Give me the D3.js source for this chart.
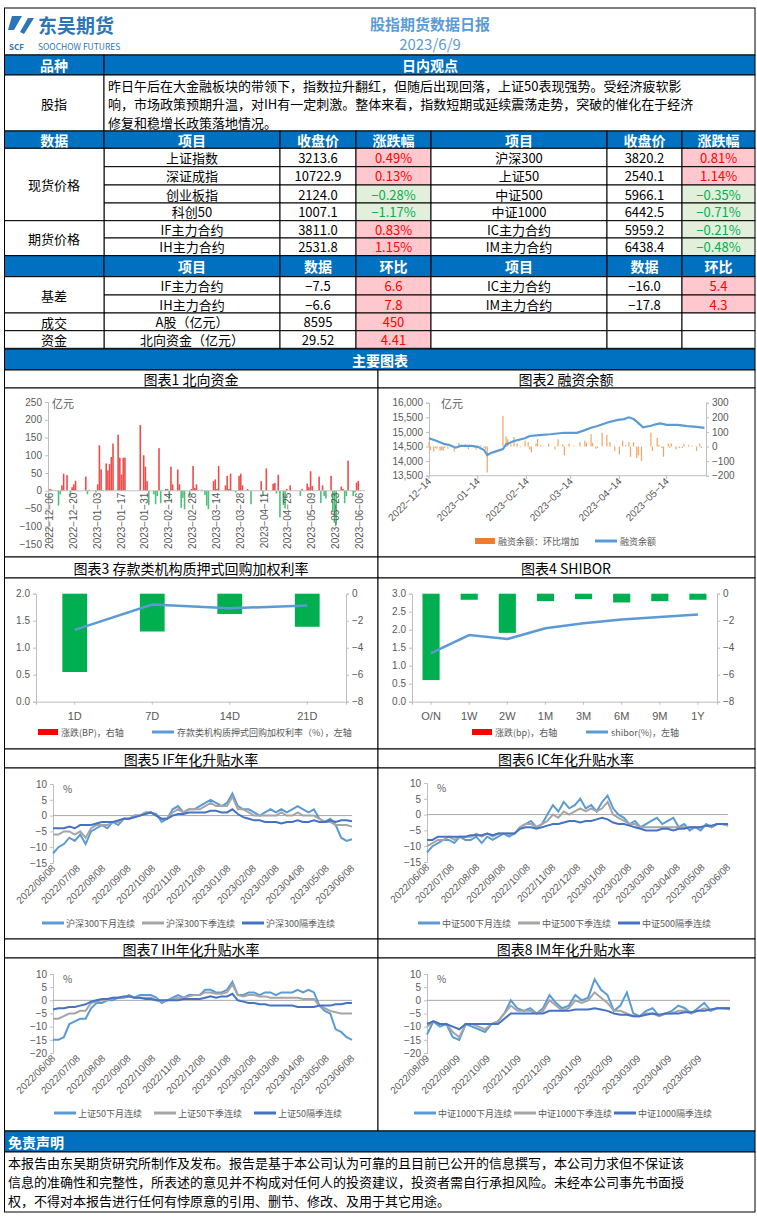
<!DOCTYPE html>
<html><head><meta charset="utf-8">
<script src="https://cdn.jsdelivr.net/npm/d3@7"></script>
<style>body{margin:0;background:#fff}svg{display:block;font-family:"Noto Sans CJK SC","Noto Sans",sans-serif}</style>
</head><body><svg id="c" width="757" height="1217"></svg>
<script>
// ---------- data ----------
const spotRows = [
  ["上证指数","3213.6","0.49%","沪深300","3820.2","0.81%"],
  ["深证成指","10722.9","0.13%","上证50","2540.1","1.14%"],
  ["创业板指","2124.0","−0.28%","中证500","5966.1","−0.35%"],
  ["科创50","1007.1","−1.17%","中证1000","6442.5","−0.71%"],
  ["IF主力合约","3811.0","0.83%","IC主力合约","5959.2","−0.21%"],
  ["IH主力合约","2531.8","1.15%","IM主力合约","6438.4","−0.48%"]
];
const basisRows = [
  ["IF主力合约","−7.5","6.6","IC主力合约","−16.0","5.4"],
  ["IH主力合约","−6.6","7.8","IM主力合约","−17.8","4.3"],
  ["A股（亿元）","8595","450","","",""],
  ["北向资金（亿元）","29.52","4.41","","",""]
];
const viewLines = [
  "昨日午后在大金融板块的带领下，指数拉升翻红，但随后出现回落，上证50表现强势。受经济疲软影",
  "响，市场政策预期升温，对IH有一定刺激。整体来看，指数短期或延续震荡走势，突破的催化在于经济",
  "修复和稳增长政策落地情况。"
];
const disclaimer = [
  "本报告由东吴期货研究所制作及发布。报告是基于本公司认为可靠的且目前已公开的信息撰写，本公司力求但不保证该",
  "信息的准确性和完整性，所表述的意见并不构成对任何人的投资建议，投资者需自行承担风险。未经本公司事先书面授",
  "权，不得对本报告进行任何有悖原意的引用、删节、修改、及用于其它用途。"
];

// chart 1: northbound flow, day offset from 2022-12-06
const nbDay = [0,1,5,6,7,8,10,12,13,14,15,21,22,23,27,28,29,30,33,34,35,36,37,40,41,42,43,44,53,55,56,57,58,61,62,63,64,65,68,69,70,71,72,75,76,77,78,79,82,83,84,85,86,89,91,92,93,96,97,98,99,103,104,105,106,109,111,112,113,116,118,124,125,127,131,132,133,134,135,137,138,139,141,147,148,151,152,153,154,158,159,160,161,162,165,166,167,168,171,172,173,174,175,178,179,180,181];
const nbVal = [5,3,-42,-10,15,48,44,-15,10,18,28,40,-10,3,-5,18,128,60,77,57,75,95,133,158,93,46,93,93,185,100,68,27,-40,-10,-38,-15,120,-35,5,5,-25,68,18,60,18,-48,-20,-52,-15,5,70,8,18,3,-12,-42,-52,27,32,5,70,15,42,5,48,-5,42,48,15,5,-38,27,-15,63,20,22,-8,45,-75,-40,-50,5,15,-15,5,20,10,55,13,40,-35,15,-15,-22,42,-60,-90,-95,12,5,-35,-15,85,-15,-5,23,28];
const nbTicks = ["2022-12-06","2022-12-20","2023-01-03","2023-01-17","2023-01-31","2023-02-14","2023-02-28","2023-03-14","2023-03-28","2023-04-11","2023-04-25","2023-05-09","2023-05-23","2023-06-06"];

// chart 2: margin balance, day offset from 2022-12-14
const mbLineDay = [0,5,10,13,17,20,27,31,35,37,40,47,49,54,61,64,70,77,86,94,99,103,107,114,120,124,127,130,132,136,141,144,147,151,158,164,170,175];
const mbLineVal = [14780,14690,14580,14550,14460,14520,14520,14490,14380,14210,14290,14410,14570,14690,14780,14860,14890,14920,14970,14970,15060,15140,15200,15330,15410,15440,15500,15440,15350,15160,15210,15260,15290,15240,15240,15200,15170,15140];
const mbBarDay = [0,1,3,4,5,7,8,9,10,12,14,16,19,22,23,25,27,29,30,33,35,36,37,47,49,50,52,54,56,58,61,63,64,65,68,69,71,73,76,80,82,85,86,89,92,96,99,100,103,104,106,107,110,113,115,118,121,123,125,127,128,130,132,133,135,141,142,145,146,148,149,152,153,154,157,159,161,162,165,167,170,172,173];
const mbBarVal = [30,-25,-35,-10,-15,-30,-25,-30,-10,-15,-5,-35,25,10,15,-20,10,-5,-20,8,-10,-20,-178,210,70,50,15,65,20,-5,40,30,-20,-40,20,50,10,5,20,-20,50,15,-60,20,5,30,40,25,85,25,-15,-10,95,80,30,-30,-55,40,10,30,-70,30,-80,-60,-100,95,-30,60,10,-10,-70,20,-10,20,-20,-10,-10,15,10,5,-30,20,-10];
const mbTicks = ["2022-12-14","2023-01-14","2023-02-14","2023-03-14","2023-04-14","2023-05-14"];

// chart 3: repo rate
const repoCats = ["1D","7D","14D","21D"];
const repoChg = [-5.8,-2.8,-1.5,-2.45];
const repoRate = [1.33,1.80,1.73,1.78];
// chart 4: shibor
const shiborCats = ["O/N","1W","2W","1M","3M","6M","9M","1Y"];
const shiborChg = [-6.4,-0.45,-2.9,-0.55,-0.4,-0.65,-0.55,-0.45];
const shiborRate = [1.35,1.85,1.74,2.04,2.18,2.28,2.35,2.42];

// charts 5-8: annualised basis, weekly readings
const ifM = [-12,-10,-9,-7,-8,-6,-9,-5,-4,-3,-4,-2,-3,-1,-1,0,0,1,1,0.5,-2,-1,2,3,1,2,2,3,4,5,4,3,4,7,3,2,2,1,0,1,2,1,2,1,2,3,2,1,2,-1,-2,-1,-3,-7,-8,-7.5];
const ifQ = [-6,-6,-5,-5,-6,-5,-7,-4,-3,-3,-3,-2,-2,-1,-1,0,0,1,1,0,-1,-1,1,2,1,2,2,2,3,4,3,3,3,6,2,2,1,0,0,0,0,0,1,0,0,1,0,0,0,-1,-2,-2,-3,-3,-3,-3.5];
const ifN = [-4,-4,-4,-3.5,-4,-3,-3,-3,-2.5,-2,-2,-2,-1.5,-1,-1,-0.5,0,0.5,1,0,-1,-1,0,0.5,0.5,1,1,1,1,1.5,1.5,1,1,2,0.5,-0.5,-1,-1.5,-1.5,-2,-2,-2,-2.5,-2,-2,-1.5,-2,-2,-1.5,-2,-2,-1.5,-2,-1.5,-1.5,-1.8];
const icM = [-12,-10,-9,-8,-8,-9,-7,-8,-8,-7,-9,-7,-8,-7,-6,-7,-6,-4,-3,-2,-4,-3,0,3,1,4,2,3,5,2,3,1,4,6,2,0,-1,-3,-2,-4,-3,-2,-1,-3,-2,-1,-4,-3,-5,-4,-5,-3,-4,-3,-3,-3.5];
const icQ = [-10,-9,-8,-8,-7,-8,-7,-7,-7,-6,-7,-6,-7,-6,-6,-6,-6,-4,-3,-3,-4,-3,-2,0,-1,1,0,1,2,1,2,1,2,4,0,-1,-2,-3,-3,-4,-4,-4,-4,-4,-4,-4,-4,-4,-4,-4,-4,-3.5,-4,-3,-3,-3.5];
const icN = [-8,-8,-7,-7,-7,-7,-7,-7,-6.5,-6.5,-6.5,-6,-6.5,-6,-6,-6,-6,-4.5,-4,-4,-4.5,-4,-3.5,-3,-3,-2.5,-2,-2,-2.5,-2,-2,-1.5,-1,-1.5,-2.5,-3,-3,-3.5,-4,-4.5,-5,-5,-5,-4.5,-4.5,-5,-4.5,-4.5,-4,-4,-4,-3.5,-3.5,-3,-3,-3];
const ihM = [-15,-15,-14,-9,-8,-7,-7,-3,-1,-1,0,0,1,1,2,1,2,2,2,1,-1,0,1,2,1,2,2,2,4,4,3,3,4,7,2,2,3,3,2,3,3,2,3,3,3,4,3,4,3,-2,-4,-5,-11,-12,-14,-15];
const ihQ = [-7,-7,-6,-5,-5,-4,-4,-1,-0.5,0,0,1,1,1,1.5,1,1,1,1,0,-0.5,0,0.5,1,1,1.5,2,2,3,3,2.5,2.5,3,6,2,1.5,2,2,1.5,1.5,1,1,1,1,1,1,0.5,0.5,0.5,-2,-3,-4,-4.5,-5,-5,-5];
const ihN = [-3.5,-3,-3,-2.5,-2.5,-2,-1.5,-0.5,0,0.5,0.5,1,1,1.5,1.5,1,1,0.5,0.5,0,0,0,0,0,0.5,0.5,0.5,0.5,1,1.5,1,1.5,1.5,2.5,0,-0.5,-1,-1,-1.5,-1.5,-2,-2,-2,-2,-2,-2.5,-2.5,-2.5,-2.5,-2,-2,-2,-1.5,-1.5,-1,-1];
const imM = [-13,-8,-10,-9,-14,-15,-9,-10,-11,-12,-9,-8,-5,0,-3,-4,-3,-5,-3,2,-1,-3,-2,2,0,1,8,4,2,-4,-2,3,-5,-6,-4,-3,-6,-5,-4,-2,-3,-5,-3,-1,-4,-3,-3,-3];
const imQ = [-10,-8,-9,-9,-12,-14,-9,-9,-10,-11,-9,-8,-5,-2,-4,-4,-4,-5,-4,0,-2,-4,-3,0,-1,0,3,1,-1,-4,-4,-5,-6,-6,-5,-5,-6,-5,-5,-4,-4,-5,-4,-3,-4,-3,-3,-3.5];
const imN = [-9,-8,-9,-9,-10,-11,-9,-9,-9,-9,-9,-9,-7,-5,-5,-5,-5,-5,-5,-4,-4,-4,-4,-3.5,-3.5,-3.5,-3,-3.5,-4,-5,-5.5,-5.5,-6,-6,-5.5,-5,-5.5,-5,-5,-5,-4.5,-4.5,-4,-4,-3.5,-3,-3,-3];
const ticksY1 = ["2022/06/08","2022/07/08","2022/08/08","2022/09/08","2022/10/08","2022/11/08","2022/12/08","2023/01/08","2023/02/08","2023/03/08","2023/04/08","2023/05/08","2023/06/08"];
const ticksIM = ["2022/08/09","2022/09/09","2022/10/09","2022/11/09","2022/12/09","2023/01/09","2023/02/09","2023/03/09","2023/04/09","2023/05/09"];

// ---------- drawing ----------
const svg = d3.select("#c");
const BLUE = "#0070c0", GRAY = "#595959";
const colX = [4.5,104,280,356,431,607,682,755];
const parse = d3.timeParse("%Y-%m-%d"), parse2 = d3.timeParse("%Y/%m/%d");

function cell(x0,x1,y0,y1,fill){
  svg.append("rect").attr("x",x0).attr("y",y0).attr("width",x1-x0).attr("height",y1-y0)
    .attr("fill",fill||"#fff").attr("stroke","#000").attr("stroke-width",1);
}
function txt(x,y,s,o={}){
  return svg.append("text").attr("x",x).attr("y",y).attr("text-anchor",o.anchor||"middle")
    .attr("dominant-baseline","central").attr("font-size",o.size||13)
    .attr("font-weight",o.bold?"bold":null).attr("fill",o.fill||"#000").text(s);
}

// header
cell(4.5,755,8,55);
svg.append("path").attr("d","M12,16 l10,0 l-8,14 l-6,0 z M20,32 l8,-14 l6,0 l-10,16 z").attr("fill","#2e75b6");
txt(38,24,"东吴期货",{anchor:"start",size:19,bold:true,fill:"#2e75b6"});
txt(38,46,"SOOCHOW FUTURES",{anchor:"start",size:8.5,fill:"#2e75b6"});
txt(9,46,"SCF",{anchor:"start",size:8,bold:true,fill:"#2e75b6"});
txt(430,23,"股指期货数据日报",{size:15,bold:true,fill:"#5b9bd5"});
txt(430,43,"2023/6/9",{size:15,fill:"#5b9bd5"});
// 品种 row
cell(4.5,104,55,75,BLUE); cell(104,755,55,75,BLUE);
txt(54,65,"品种",{fill:"#fff",bold:true,size:14}); txt(430,65,"日内观点",{fill:"#fff",bold:true,size:14});
cell(4.5,104,75,131); cell(104,755,75,131);
txt(54,103,"股指");
viewLines.forEach((l,i)=>txt(108,85+i*18.5,l,{anchor:"start",size:13}));

// price table
const hdr1 = ["数据","项目","收盘价","涨跌幅","项目","收盘价","涨跌幅"];
hdr1.forEach((h,i)=>{cell(colX[i],colX[i+1],131,148.3,BLUE);txt((colX[i]+colX[i+1])/2,140,h,{fill:"#fff",bold:true,size:14});});
const rowY1 = [148.3,166.7,185,203,220.7,238,255.7];
function valCell(x0,x1,y0,y1,s){
  const neg = s.startsWith("−");
  cell(x0,x1,y0,y1,neg?"#e2efda":"#ffc7ce");
  txt((x0+x1)/2,(y0+y1)/2,s,{fill:neg?"#00b050":"#ff0000"});
}
spotRows.forEach((r,j)=>{
  const y0=rowY1[j],y1=rowY1[j+1],ym=(y0+y1)/2;
  cell(colX[1],colX[2],y0,y1);txt((colX[1]+colX[2])/2,ym,r[0]);
  cell(colX[2],colX[3],y0,y1);txt((colX[2]+colX[3])/2,ym,r[1]);
  valCell(colX[3],colX[4],y0,y1,r[2]);
  cell(colX[4],colX[5],y0,y1);txt((colX[4]+colX[5])/2,ym,r[3]);
  cell(colX[5],colX[6],y0,y1);txt((colX[5]+colX[6])/2,ym,r[4]);
  valCell(colX[6],colX[7],y0,y1,r[5]);
});
cell(colX[0],colX[1],148.3,220.7);txt(54,184.5,"现货价格");
cell(colX[0],colX[1],220.7,255.7);txt(54,238,"期货价格");

const hdr2 = ["","项目","数据","环比","项目","数据","环比"];
hdr2.forEach((h,i)=>{cell(colX[i],colX[i+1],255.7,276.7,BLUE);txt((colX[i]+colX[i+1])/2,266,h,{fill:"#fff",bold:true,size:14});});
const rowY2 = [276.7,295,313,330.7,348.3];
basisRows.forEach((r,j)=>{
  const y0=rowY2[j],y1=rowY2[j+1],ym=(y0+y1)/2;
  cell(colX[1],colX[2],y0,y1);txt((colX[1]+colX[2])/2,ym,r[0]);
  cell(colX[2],colX[3],y0,y1);txt((colX[2]+colX[3])/2,ym,r[1]);
  valCell(colX[3],colX[4],y0,y1,r[2]);
  cell(colX[4],colX[5],y0,y1);txt((colX[4]+colX[5])/2,ym,r[3]);
  cell(colX[5],colX[6],y0,y1);txt((colX[5]+colX[6])/2,ym,r[4]);
  if(r[5]) valCell(colX[6],colX[7],y0,y1,r[5]); else cell(colX[6],colX[7],y0,y1);
});
cell(colX[0],colX[1],276.7,313);txt(54,295,"基差");
cell(colX[0],colX[1],313,330.7);txt(54,322,"成交");
cell(colX[0],colX[1],330.7,348.3);txt(54,339.5,"资金");

cell(4.5,755,349,370,BLUE);txt(380,360,"主要图表",{fill:"#fff",bold:true,size:14});

// chart panels
const panels = [[370,388,557,"图表1  北向资金","图表2  融资余额"],[557,578,749,"图表3  存款类机构质押式回购加权利率","图表4  SHIBOR"],
  [749,768,939,"图表5  IF年化升贴水率","图表6  IC年化升贴水率"],[939,958,1131,"图表7  IH年化升贴水率","图表8  IM年化升贴水率"]];
panels.forEach(([a,b,c,t1,t2])=>{
  cell(4.5,378,a,b);cell(378,755,a,b);cell(4.5,378,b,c);cell(378,755,b,c);
  txt(191,(a+b)/2,t1,{size:14});txt(566,(a+b)/2,t2,{size:14});
});
cell(4.5,755,1131,1152,BLUE);txt(8,1142,"免责声明",{anchor:"start",fill:"#fff",bold:true,size:14});
cell(4.5,755,1152,1212);
disclaimer.forEach((l,i)=>txt(8,1162+i*19,l,{anchor:"start",size:13}));

function styleAxis(g,line){
  g.selectAll("text").attr("fill",GRAY).attr("font-size",10).attr("font-family","Liberation Sans, Arial");
  g.selectAll("line").attr("stroke","#bfbfbf");
  g.select(".domain").attr("stroke",line?"#bfbfbf":"none");
}

// chart 1
{
  const x = d3.scaleTime().domain([parse("2022-12-06"),parse("2023-06-06")]).range([50,360]);
  const y = d3.scaleLinear().domain([-150,250]).range([544,402]);
  const t0 = parse("2022-12-06");
  const g=svg.append("g").attr("transform","translate(48,0)").call(d3.axisLeft(y).ticks(8).tickSize(3).tickFormat(d=>d<0?"−"+(-d):d));
  styleAxis(g,true);
  svg.append("g").selectAll("rect").data(nbDay).join("rect")
    .attr("x",(d)=>x(d3.timeDay.offset(t0,d))-0.8).attr("width",1.6)
    .attr("y",(d,i)=>y(Math.max(0,nbVal[i]))).attr("height",(d,i)=>Math.abs(y(nbVal[i])-y(0)))
    .attr("fill",(d,i)=>nbVal[i]>=0?"#f04b4b":"#4cc17a");
  svg.append("line").attr("x1",48).attr("x2",365).attr("y1",y(0)).attr("y2",y(0)).attr("stroke","#bfbfbf");
  nbTicks.forEach(s=>svg.append("text").attr("transform",`translate(${x(parse(s))+3},${y(0)+2}) rotate(-90)`)
    .attr("text-anchor","end").attr("font-size",10).attr("fill",GRAY).attr("font-family","Liberation Sans").text(s.replace(/-/g,"−")));
  txt(52,403,"亿元",{anchor:"start",size:11,fill:GRAY});
}
// chart 2
{
  const t0=parse("2022-12-14");
  const x=d3.scaleTime().domain([t0,d3.timeDay.offset(t0,176)]).range([429,706]);
  const yl=d3.scaleLinear().domain([13500,16000]).range([475.7,402.7]);
  const yr=d3.scaleLinear().domain([-200,300]).range([475.7,402.7]);
  styleAxis(svg.append("g").attr("transform","translate(429,0)").call(d3.axisLeft(yl).ticks(5).tickSize(3).tickFormat(d3.format(","))),true);
  styleAxis(svg.append("g").attr("transform","translate(706,0)").call(d3.axisRight(yr).ticks(5).tickSize(3).tickFormat(d=>d<0?"−"+(-d):d)),true);
  svg.append("line").attr("x1",429).attr("x2",706).attr("y1",475.7).attr("y2",475.7).attr("stroke","#bfbfbf");
  svg.append("g").selectAll("rect").data(mbBarDay).join("rect")
    .attr("x",d=>x(d3.timeDay.offset(t0,d))-0.6).attr("width",1.2)
    .attr("y",(d,i)=>yr(Math.max(0,mbBarVal[i]))).attr("height",(d,i)=>Math.abs(yr(mbBarVal[i])-yr(0))).attr("fill","#f4a460");
  svg.append("path").datum(mbLineDay).attr("fill","none").attr("stroke","#5b9bd5").attr("stroke-width",2.2)
    .attr("d",d3.line().x(d=>x(d3.timeDay.offset(t0,d))).y((d,i)=>yl(mbLineVal[i])));
  mbTicks.forEach(s=>{svg.append("line").attr("x1",x(parse(s))).attr("x2",x(parse(s))).attr("y1",475.7).attr("y2",479).attr("stroke","#bfbfbf");
    svg.append("text").attr("transform",`translate(${x(parse(s))+3},${482}) rotate(-45)`)
    .attr("text-anchor","end").attr("font-size",10).attr("fill",GRAY).attr("font-family","Liberation Sans").text(s.replace(/-/g,"−"));});
  txt(441,403,"亿元",{anchor:"start",size:11,fill:GRAY});
  svg.append("rect").attr("x",475).attr("y",538).attr("width",20).attr("height",6).attr("fill","#ed7d31");
  txt(498,541,"融资余额：环比增加",{anchor:"start",size:9,fill:GRAY});
  svg.append("line").attr("x1",595).attr("x2",617).attr("y1",541).attr("y2",541).attr("stroke","#5b9bd5").attr("stroke-width",3);
  txt(620,541,"融资余额",{anchor:"start",size:9,fill:GRAY});
}
// charts 3 & 4
function barLine(cats,chg,rate,x0,x1,lmax,legend1,legend2,lx){
  const x=d3.scaleBand().domain(cats).range([x0,x1]);
  const yl=d3.scaleLinear().domain([0,lmax]).range([701.7,593.7]);
  const yr=d3.scaleLinear().domain([-8,0]).range([701.7,593.7]);
  styleAxis(svg.append("g").attr("transform",`translate(${x0},0)`).call(d3.axisLeft(yl).ticks(lmax/0.5).tickSize(3).tickFormat(d3.format(".1f"))),true);
  styleAxis(svg.append("g").attr("transform",`translate(${x1},0)`).call(d3.axisRight(yr).ticks(4).tickSize(3)),true);
  const xa=svg.append("g").attr("transform","translate(0,701.7)").call(d3.axisBottom(x).tickSize(3).tickPadding(8));
  styleAxis(xa,true); xa.selectAll("text").attr("font-size",11);
  const bw=x.bandwidth()*(cats.length>4?0.45:0.32);
  svg.append("g").selectAll("rect").data(cats).join("rect").attr("x",d=>x(d)+x.bandwidth()/2-bw/2).attr("width",bw)
    .attr("y",yr(0)).attr("height",(d,i)=>yr(chg[i])-yr(0)).attr("fill","#00b050");
  svg.append("path").datum(cats).attr("fill","none").attr("stroke","#5b9bd5").attr("stroke-width",2.5)
    .attr("d",d3.line().x(d=>x(d)+x.bandwidth()/2).y((d,i)=>yl(rate[i])));
  svg.append("rect").attr("x",lx).attr("y",729).attr("width",20).attr("height",6).attr("fill","#ff0000");
  txt(lx+23,732,legend1,{anchor:"start",size:9,fill:GRAY});
  const l2=lx+23+legend1.length*9+10;
  svg.append("line").attr("x1",l2).attr("x2",l2+22).attr("y1",732).attr("y2",732).attr("stroke","#5b9bd5").attr("stroke-width",3);
  txt(l2+25,732,legend2,{anchor:"start",size:9,fill:GRAY});
}
barLine(repoCats,repoChg,repoRate,36,346,2,"涨跌(BP)，右轴","存款类机构质押式回购加权利率（%），左轴",38);
barLine(shiborCats,shiborChg,shiborRate,412,717,3,"涨跌(bp)，右轴","shibor(%)，左轴",472);

// charts 5-8
function basis(series,names,start,end,ticks,x0,x1,yTop,yBot,ymin,legY,legX){
  const n=series[0].length;
  const x=d3.scaleTime().domain([parse2(start),parse2(end)]).range([x0,x1]);
  const xi=d3.scaleLinear().domain([0,n-1]).range([x0,x1]);
  const y=d3.scaleLinear().domain([ymin,10]).range([yBot,yTop]);
  const g=svg.append("g").attr("transform",`translate(${x0},0)`).call(d3.axisLeft(y).ticks((10-ymin)/5).tickSize(3));
  styleAxis(g,true);
  svg.append("line").attr("x1",x0).attr("x2",x1).attr("y1",y(0)).attr("y2",y(0)).attr("stroke","#a6a6a6");
  const colors=["#5b9bd5","#a5a5a5","#4472c4"];
  series.forEach((s,k)=>svg.append("path").datum(s).attr("fill","none").attr("stroke",colors[k]).attr("stroke-width",2)
    .attr("d",d3.line().x((d,i)=>xi(i)).y(d=>y(d))));
  ticks.forEach(s=>svg.append("text").attr("transform",`translate(${x(parse2(s))+3},${yBot+6}) rotate(-45)`)
    .attr("text-anchor","end").attr("font-size",10).attr("fill",GRAY).attr("font-family","Liberation Sans").text(s));
  txt(x0+10,yTop+4,"%",{anchor:"start",size:10,fill:GRAY});
  names.forEach((nm,k)=>{const lx=legX+k*100;
    svg.append("line").attr("x1",lx).attr("x2",lx+22).attr("y1",legY).attr("y2",legY).attr("stroke",colors[k]).attr("stroke-width",3);
    txt(lx+24,legY,nm,{anchor:"start",size:9,fill:GRAY});});
}
basis([ifM,ifQ,ifN],["沪深300下月连续","沪深300下季连续","沪深300隔季连续"],"2022/06/08","2023/06/08",ticksY1,53,352,784,863,-15,923,42);
basis([icM,icQ,icN],["中证500下月连续","中证500下季连续","中证500隔季连续"],"2022/06/08","2023/06/08",ticksY1,427,728,783,862,-15,923,418);
basis([ihM,ihQ,ihN],["上证50下月连续","上证50下季连续","上证50隔季连续"],"2022/06/08","2023/06/08",ticksY1,53,352,974,1053,-20,1113,54);
basis([imM,imQ,imN],["中证1000下月连续","中证1000下季连续","中证1000隔季连续"],"2022/08/09","2023/06/09",ticksIM,427,730,974,1053,-20,1113,414);
</script></body></html>
